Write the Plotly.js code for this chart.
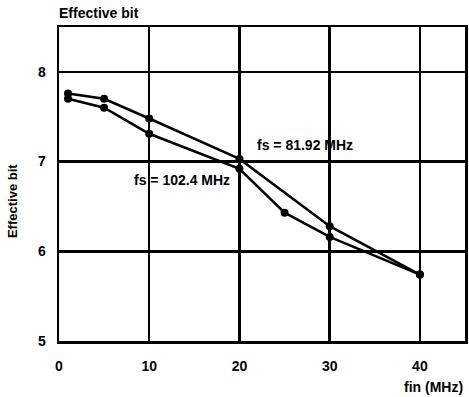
<!DOCTYPE html>
<html><head><meta charset="utf-8">
<script src="https://cdn.plot.ly/plotly-3.0.1.min.js"></script>
<style>html,body{margin:0;padding:0;background:#fff;}#chart{width:469px;height:397px;}</style>
</head><body><div id="chart"></div>
<script>
const finA = [1, 5, 10, 20, 30, 40];
const bitsA = [7.76, 7.70, 7.48, 7.03, 6.28, 5.74];
const finB = [1, 5, 10, 20, 25, 30, 40];
const bitsB = [7.70, 7.60, 7.31, 6.92, 6.43, 6.16, 5.74];
const labelA = "fs = 81.92 MHz";
const labelB = "fs = 102.4 MHz";
const xTicks = [0, 10, 20, 30, 40];
const yTicks = [5, 6, 7, 8];

const fontFam = "Liberation Sans, Arial, sans-serif";
const lineStyle = {color: "#000", width: 2.5};
const markerStyle = {color: "#000", size: 8};

const traces = [
  {x: finA, y: bitsA, mode: "lines+markers", line: lineStyle, marker: markerStyle, name: labelA, showlegend: false},
  {x: finB, y: bitsB, mode: "lines+markers", line: lineStyle, marker: markerStyle, name: labelB, showlegend: false}
];

const layout = {
  width: 469, height: 397,
  margin: {l: 59, r: 4, t: 27, b: 56},
  paper_bgcolor: "#fff", plot_bgcolor: "#fff",
  font: {family: fontFam, color: "#000", size: 14, weight: 700},
  title: {text: "Effective bit", x: 0, xref: "paper", xanchor: "left", y: 0.98, yanchor: "top",
          font: {family: fontFam, size: 14, weight: 700, color: "#000"}},
  xaxis: {range: [0, 45], tickvals: xTicks, ticktext: xTicks.map(String),
          showgrid: true, gridcolor: "#000", gridwidth: 2.5,
          showline: true, linecolor: "#000", linewidth: 2.5, mirror: true,
          zeroline: false, ticks: "", ticklabelstandoff: 11,
          tickfont: {family: fontFam, size: 14, weight: 700}},
  yaxis: {range: [5, 8.5], tickvals: yTicks, ticktext: yTicks.map(String),
          showgrid: true, gridcolor: "#000", gridwidth: 2.5,
          showline: true, linecolor: "#000", linewidth: 2.5, mirror: true,
          zeroline: false, ticks: "", ticklabelstandoff: 8,
          tickfont: {family: fontFam, size: 14, weight: 700}},
  annotations: [
    {x: 21.7, y: 7.18, xref: "x", yref: "y", text: labelA, showarrow: false, xanchor: "left",
     font: {family: fontFam, size: 14, weight: 700}},
    {x: 8.1, y: 6.79, xref: "x", yref: "y", text: labelB, showarrow: false, xanchor: "left",
     font: {family: fontFam, size: 14, weight: 700}},
    {x: 1, y: 0, xref: "paper", yref: "paper", yshift: -36, text: "fin (MHz)", showarrow: false,
     xanchor: "right", yanchor: "top", font: {family: fontFam, size: 14, weight: 700}},
    {x: -0.113, y: 0.446, xref: "paper", yref: "paper", text: "Effective bit", showarrow: false,
     textangle: -90, xanchor: "center", yanchor: "middle", font: {family: fontFam, size: 13, weight: 700}}
  ]
};

Plotly.newPlot("chart", traces, layout, {displayModeBar: false, staticPlot: true});
</script></body></html>
